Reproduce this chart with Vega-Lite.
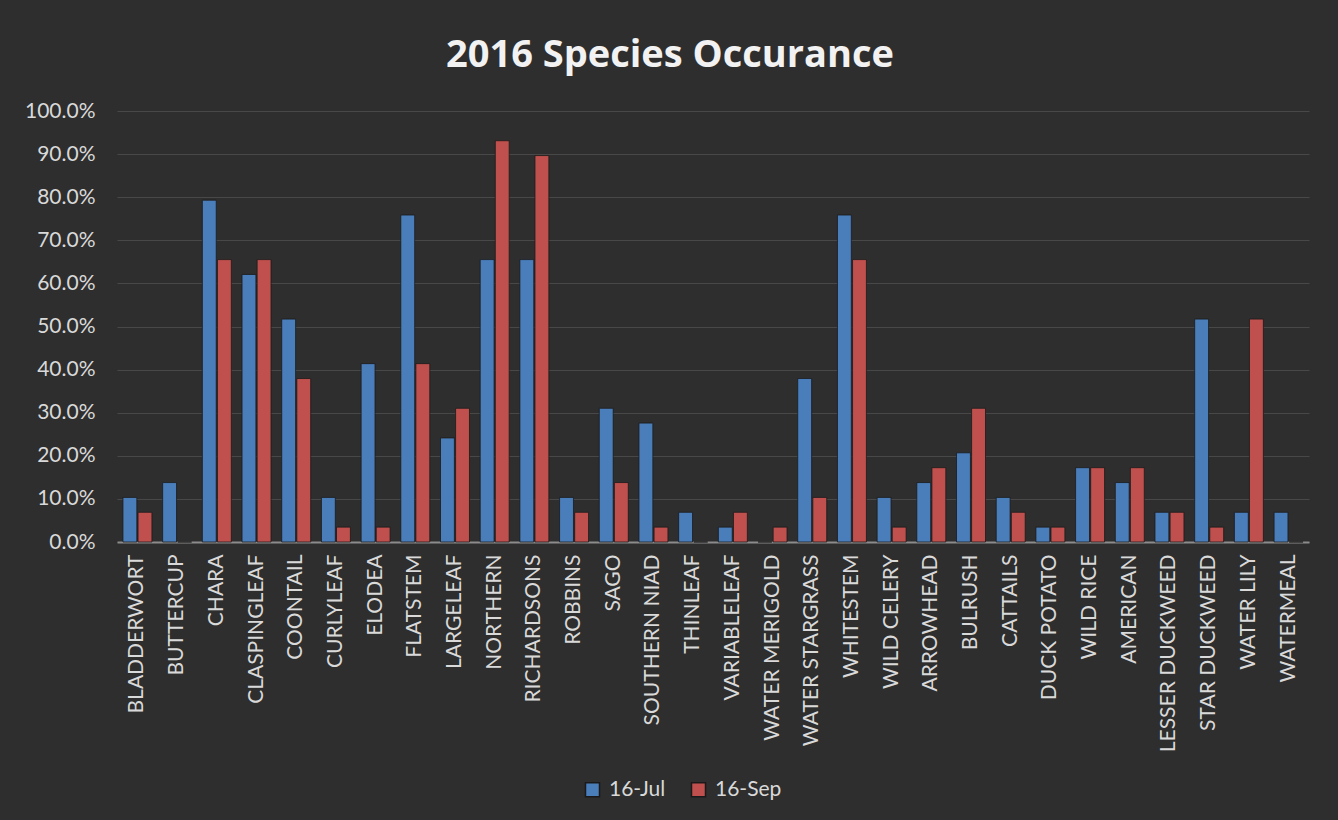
{
  "$schema": "https://vega.github.io/schema/vega-lite/v6.json",
  "width": 1192,
  "height": 431,
  "autosize": {"type": "none"},
  "padding": {"left": 117, "top": 111, "right": 29, "bottom": 278},
  "background": "#2e2e2e",
  "title": {
    "text": "2016 Species Occurance",
    "fontSize": 38,
    "font": "Open Sans",
    "fontWeight": "bold",
    "color": "#f2f2f2",
    "anchor": "middle",
    "offset": 25,
    "dx": -43
  },
  "data": {
    "values": [
      {"species": "BLADDERWORT", "date": "16-Jul", "value": 0.1034},
      {"species": "BLADDERWORT", "date": "16-Sep", "value": 0.069},
      {"species": "BUTTERCUP", "date": "16-Jul", "value": 0.1379},
      {"species": "BUTTERCUP", "date": "16-Sep", "value": 0},
      {"species": "CHARA", "date": "16-Jul", "value": 0.7931},
      {"species": "CHARA", "date": "16-Sep", "value": 0.6552},
      {"species": "CLASPINGLEAF", "date": "16-Jul", "value": 0.6207},
      {"species": "CLASPINGLEAF", "date": "16-Sep", "value": 0.6552},
      {"species": "COONTAIL", "date": "16-Jul", "value": 0.5172},
      {"species": "COONTAIL", "date": "16-Sep", "value": 0.3793},
      {"species": "CURLYLEAF", "date": "16-Jul", "value": 0.1034},
      {"species": "CURLYLEAF", "date": "16-Sep", "value": 0.0345},
      {"species": "ELODEA", "date": "16-Jul", "value": 0.4138},
      {"species": "ELODEA", "date": "16-Sep", "value": 0.0345},
      {"species": "FLATSTEM", "date": "16-Jul", "value": 0.7586},
      {"species": "FLATSTEM", "date": "16-Sep", "value": 0.4138},
      {"species": "LARGELEAF", "date": "16-Jul", "value": 0.2414},
      {"species": "LARGELEAF", "date": "16-Sep", "value": 0.3103},
      {"species": "NORTHERN", "date": "16-Jul", "value": 0.6552},
      {"species": "NORTHERN", "date": "16-Sep", "value": 0.931},
      {"species": "RICHARDSONS", "date": "16-Jul", "value": 0.6552},
      {"species": "RICHARDSONS", "date": "16-Sep", "value": 0.8966},
      {"species": "ROBBINS", "date": "16-Jul", "value": 0.1034},
      {"species": "ROBBINS", "date": "16-Sep", "value": 0.069},
      {"species": "SAGO", "date": "16-Jul", "value": 0.3103},
      {"species": "SAGO", "date": "16-Sep", "value": 0.1379},
      {"species": "SOUTHERN NIAD", "date": "16-Jul", "value": 0.2759},
      {"species": "SOUTHERN NIAD", "date": "16-Sep", "value": 0.0345},
      {"species": "THINLEAF", "date": "16-Jul", "value": 0.069},
      {"species": "THINLEAF", "date": "16-Sep", "value": 0},
      {"species": "VARIABLELEAF", "date": "16-Jul", "value": 0.0345},
      {"species": "VARIABLELEAF", "date": "16-Sep", "value": 0.069},
      {"species": "WATER MERIGOLD", "date": "16-Jul", "value": 0},
      {"species": "WATER MERIGOLD", "date": "16-Sep", "value": 0.0345},
      {"species": "WATER STARGRASS", "date": "16-Jul", "value": 0.3793},
      {"species": "WATER STARGRASS", "date": "16-Sep", "value": 0.1034},
      {"species": "WHITESTEM", "date": "16-Jul", "value": 0.7586},
      {"species": "WHITESTEM", "date": "16-Sep", "value": 0.6552},
      {"species": "WILD CELERY", "date": "16-Jul", "value": 0.1034},
      {"species": "WILD CELERY", "date": "16-Sep", "value": 0.0345},
      {"species": "ARROWHEAD", "date": "16-Jul", "value": 0.1379},
      {"species": "ARROWHEAD", "date": "16-Sep", "value": 0.1724},
      {"species": "BULRUSH", "date": "16-Jul", "value": 0.2069},
      {"species": "BULRUSH", "date": "16-Sep", "value": 0.3103},
      {"species": "CATTAILS", "date": "16-Jul", "value": 0.1034},
      {"species": "CATTAILS", "date": "16-Sep", "value": 0.069},
      {"species": "DUCK POTATO", "date": "16-Jul", "value": 0.0345},
      {"species": "DUCK POTATO", "date": "16-Sep", "value": 0.0345},
      {"species": "WILD RICE", "date": "16-Jul", "value": 0.1724},
      {"species": "WILD RICE", "date": "16-Sep", "value": 0.1724},
      {"species": "AMERICAN", "date": "16-Jul", "value": 0.1379},
      {"species": "AMERICAN", "date": "16-Sep", "value": 0.1724},
      {"species": "LESSER DUCKWEED", "date": "16-Jul", "value": 0.069},
      {"species": "LESSER DUCKWEED", "date": "16-Sep", "value": 0.069},
      {"species": "STAR DUCKWEED", "date": "16-Jul", "value": 0.5172},
      {"species": "STAR DUCKWEED", "date": "16-Sep", "value": 0.0345},
      {"species": "WATER LILY", "date": "16-Jul", "value": 0.069},
      {"species": "WATER LILY", "date": "16-Sep", "value": 0.5172},
      {"species": "WATERMEAL", "date": "16-Jul", "value": 0.069},
      {"species": "WATERMEAL", "date": "16-Sep", "value": 0}
    ]
  },
  "mark": {"type": "bar", "stroke": "#1a1a1a", "strokeWidth": 0.8},
  "encoding": {
    "x": {
      "field": "species",
      "type": "nominal",
      "sort": null,
      "title": null,
      "scale": {"paddingInner": 0.27, "paddingOuter": 0.15},
      "axis": {
        "labelAngle": -90,
        "labelFontSize": 21,
        "labelFont": "Lato",
        "labelColor": "#d9d9d9",
        "labelPadding": 12,
        "labelLimit": 400,
        "ticks": false,
        "domainColor": "#8c8c8c",
        "domainWidth": 2,
        "grid": false,
        "labelOverlap": false
      }
    },
    "xOffset": {"field": "date", "type": "nominal", "sort": ["16-Jul", "16-Sep"], "scale": {"paddingInner": 0.08}},
    "y": {
      "field": "value",
      "type": "quantitative",
      "title": null,
      "scale": {"domain": [0, 1]},
      "axis": {
        "values": [0, 0.1, 0.2, 0.3, 0.4, 0.5, 0.6, 0.7, 0.8, 0.9, 1],
        "format": ".1%",
        "labelFontSize": 21,
        "labelFont": "Lato",
        "labelColor": "#d9d9d9",
        "labelPadding": 22,
        "ticks": false,
        "domain": false,
        "gridColor": "#484848",
        "gridWidth": 1.2
      }
    },
    "color": {
      "field": "date",
      "type": "nominal",
      "scale": {"domain": ["16-Jul", "16-Sep"], "range": ["#4a7ebb", "#c0504d"]},
      "legend": {
        "title": null,
        "orient": "none",
        "legendX": 465,
        "legendY": 668,
        "direction": "horizontal",
        "symbolType": "square",
        "symbolSize": 196,
        "symbolStrokeColor": "#1a1a1a",
        "labelFontSize": 21,
        "labelFont": "Lato",
        "labelColor": "#d9d9d9",
        "labelOffset": 6,
        "columnPadding": 22
      }
    }
  },
  "config": {
    "view": {"stroke": null}
  }
}
